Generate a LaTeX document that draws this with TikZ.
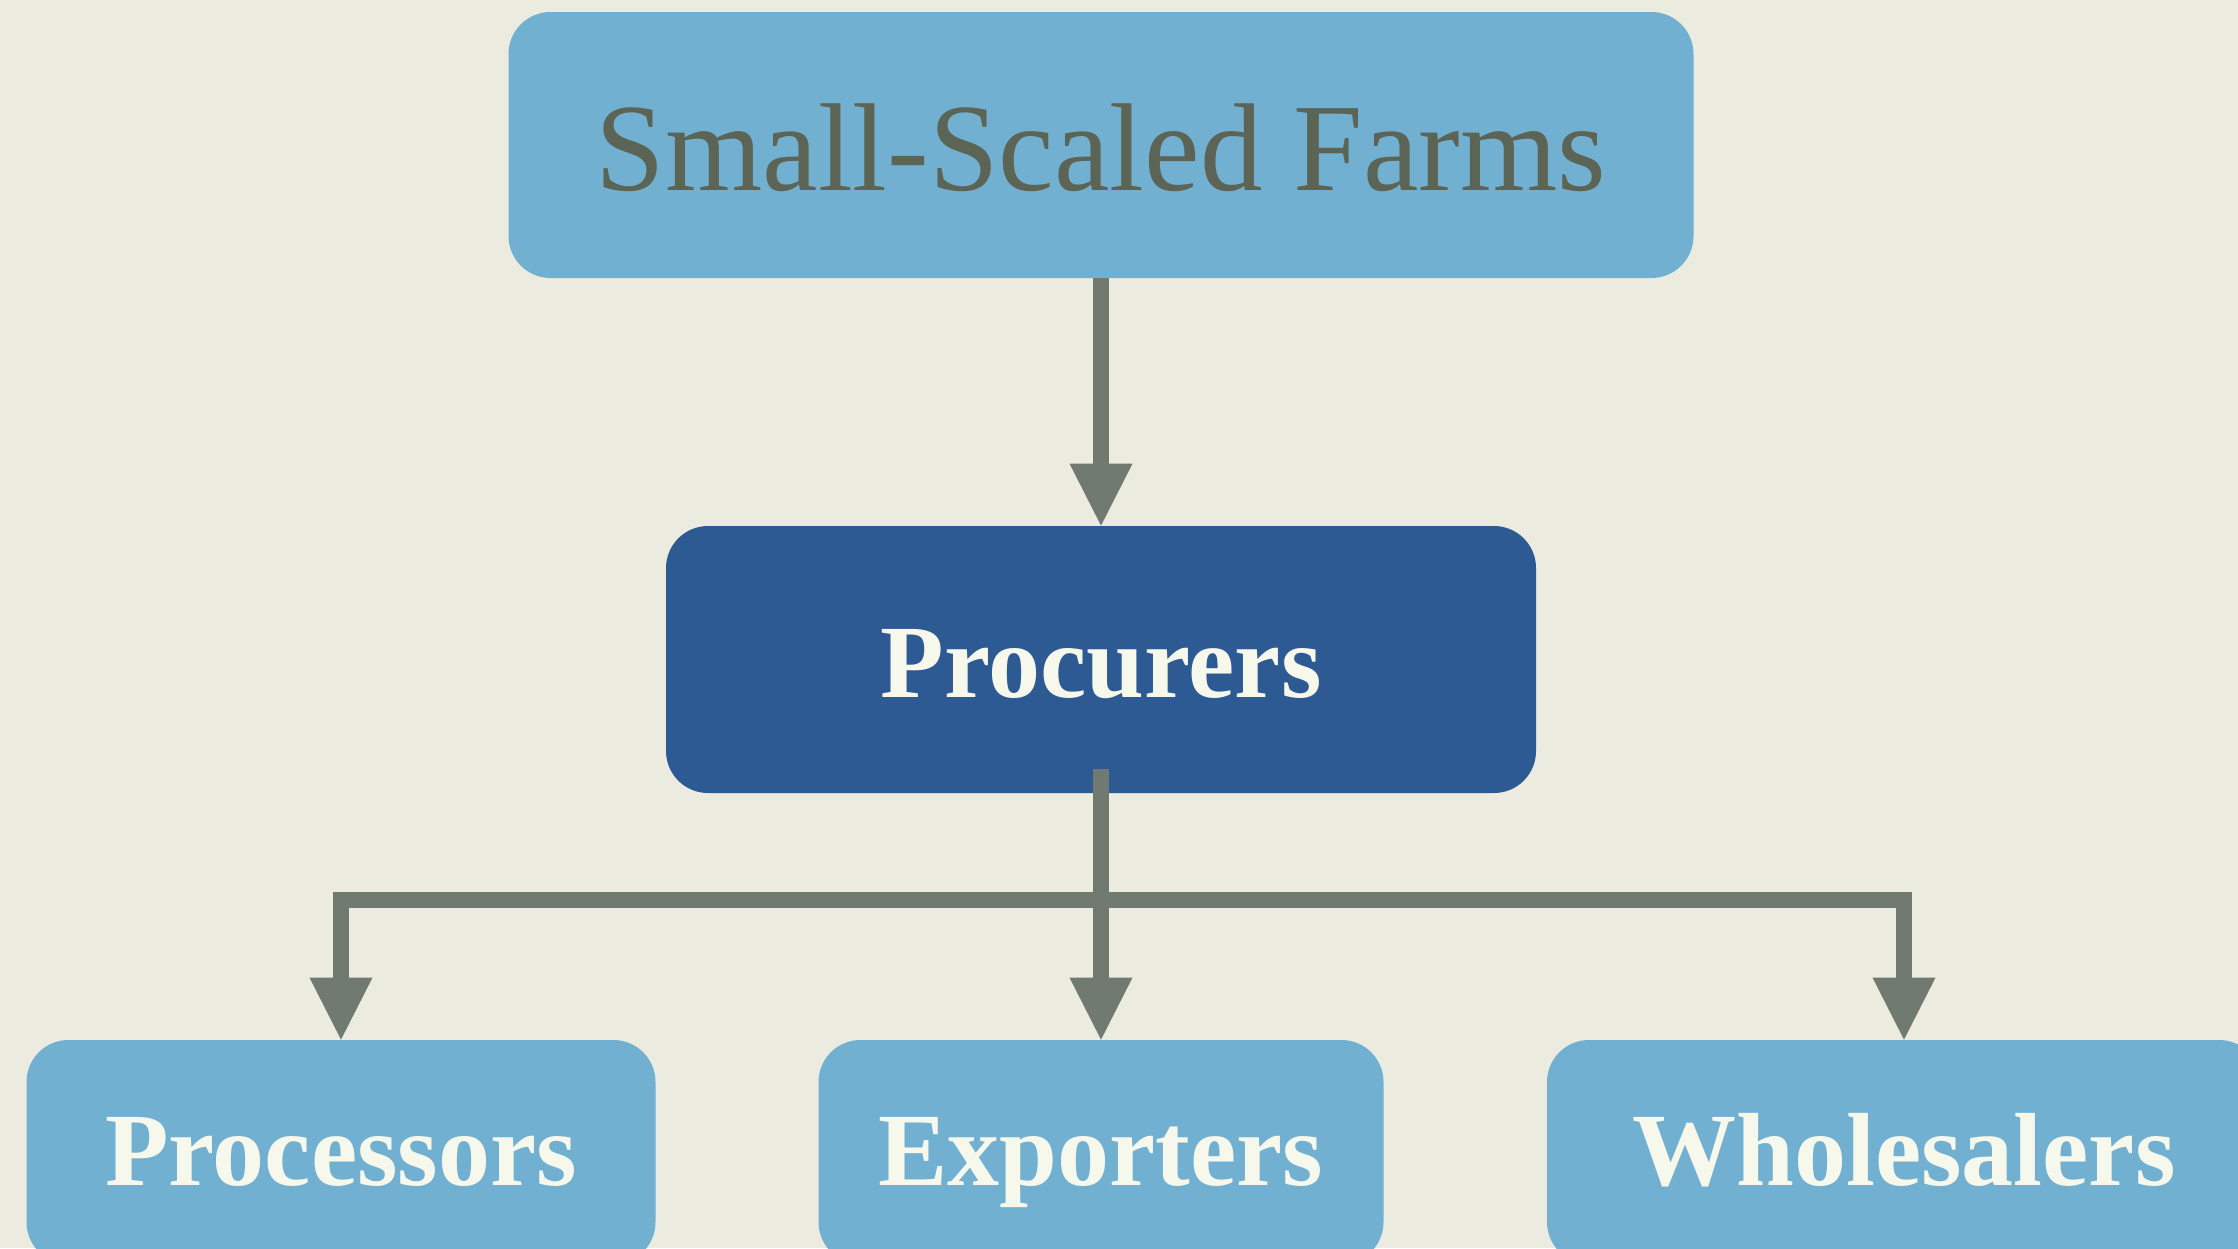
\documentclass[tikz,border=0pt]{standalone}
\usepackage{fontspec}
\setmainfont{Liberation Serif}
\usetikzlibrary{arrows.meta}
\definecolor{bg}{HTML}{EBEBE0}
\definecolor{lblue}{HTML}{72B0D2}
\definecolor{dblue}{HTML}{2E5A93}
\definecolor{arrgray}{HTML}{717A70}
\definecolor{dtext}{HTML}{5C6456}
\definecolor{ltext}{HTML}{F6F8EC}
\tikzset{
  box/.style={rectangle, rounded corners=21pt, inner sep=0pt, text depth=0pt, align=center},
  lightbox/.style={box, fill=lblue},
  darkbox/.style={box, fill=dblue},
  toptext/.style={text=dtext, font=\fontsize{62.5}{64}\selectfont, text height=45pt},
  boldtext/.style={text=ltext, font=\fontsize{52}{54}\selectfont\bfseries, text height=37.5pt},
  lowtext/.style={boldtext, text height=33pt},
  conn/.style={draw=arrgray, line width=8pt},
  arr/.style={conn, -{Triangle[length=31pt,width=31.5pt,line width=0pt]}},
}
\begin{document}
\begin{tikzpicture}[x=0.5pt,y=-0.5pt]
\fill[bg] (0,0) rectangle (2238,1248);
\useasboundingbox (0,0) rectangle (2238,1248);
\clip (0,0) rectangle (2238,1248);
\node[lightbox, toptext, minimum width=592.5pt, minimum height=133pt] (farms) at (1101,145) {Small-Scaled Farms};
\node[darkbox, boldtext, minimum width=435pt, minimum height=133.5pt] (proc) at (1101,659.5) {Procurers};
\node[lightbox, lowtext, minimum width=314.5pt, minimum height=112pt] (pcs) at (341,1152) {Processors};
\node[lightbox, lowtext, minimum width=282.5pt, minimum height=112pt] (exp) at (1101,1152) {Exporters};
\node[lightbox, lowtext, minimum width=357pt, minimum height=112pt] (whl) at (1904,1152) {Wholesalers};
\coordinate (pstart) at (1101,769);
\coordinate (branch) at (1101,900);
\draw[arr] (farms.south) -- (proc.north);
\draw[conn] (pstart) -- (branch);
\draw[arr] (branch) -| (pcs.north);
\draw[arr] (branch) -- (exp.north);
\draw[arr] (branch) -| (whl.north);
\end{tikzpicture}
\end{document}
